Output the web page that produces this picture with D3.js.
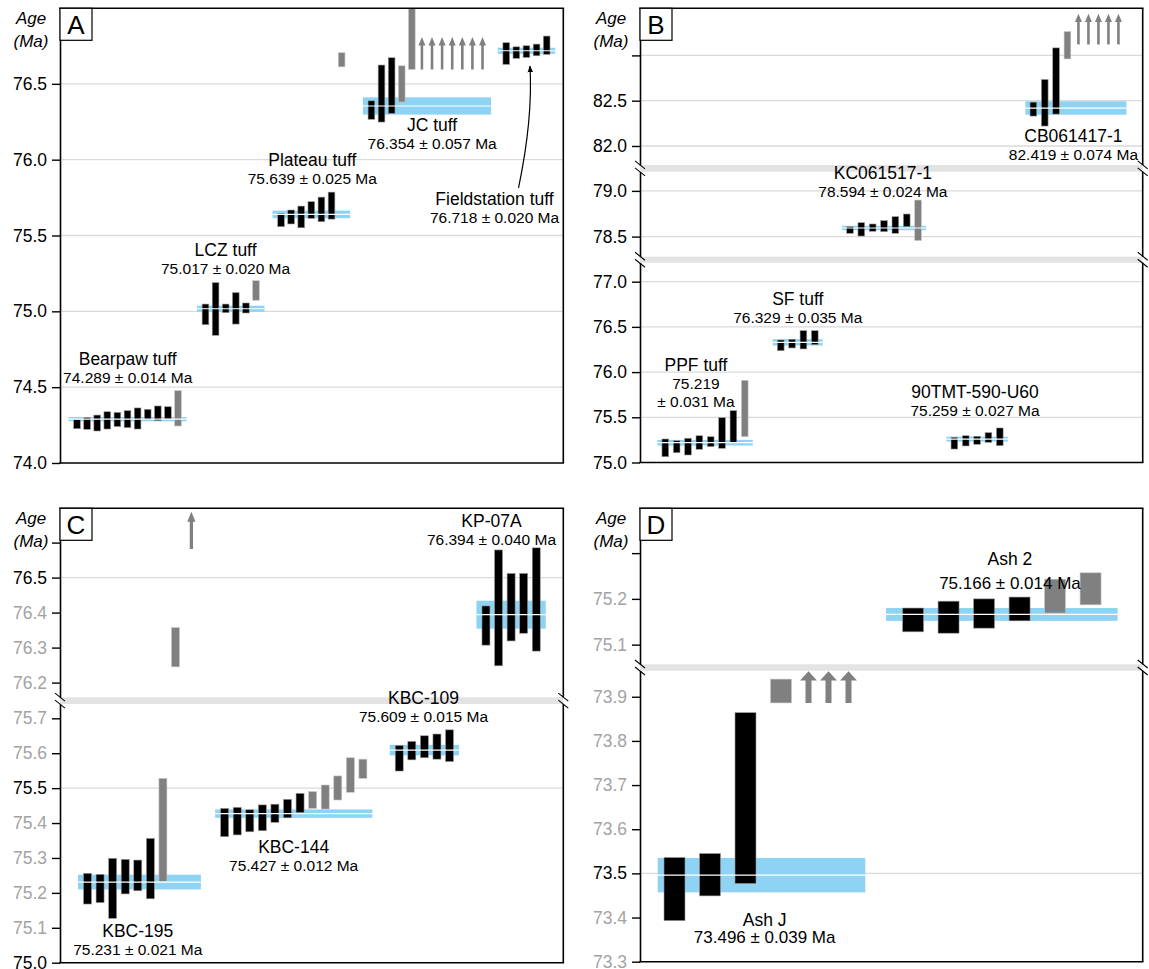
<!DOCTYPE html>
<html>
<head>
<meta charset="utf-8">
<script src="https://cdn.jsdelivr.net/npm/d3@7"></script>
<style>
  body { margin: 0; background: #fff; }
  svg { font-family: 'Liberation Sans', Arial, Helvetica, sans-serif; }
</style>
</head>
<body>
<svg id="chart"></svg>
<script>
// each grain: [low, high, used]  used 1 = black (in the mean), 0 = grey (left out)

// panel A
const bearpawTuff = [[74.226,74.288,1],[74.222,74.299,1],[74.211,74.316,1],[74.224,74.338,1],[74.240,74.334,1],[74.233,74.345,1],[74.224,74.363,1],[74.288,74.354,1],[74.279,74.376,1],[74.290,74.371,1],[74.244,74.477,0]];
const lczTuff = [[74.912,75.048,1],[74.842,75.189,1],[74.991,75.048,1],[74.916,75.123,1],[74.989,75.055,1],[75.073,75.202,0]];
const plateauTuff = [[75.558,75.646,1],[75.576,75.668,1],[75.551,75.694,1],[75.613,75.723,1],[75.591,75.753,1],[75.608,75.786,1],[76.612,76.705,0]];
const jcTuff = [[76.266,76.388,1],[76.248,76.624,1],[76.305,76.672,1],[76.380,76.619,0],[76.595,77.300,0]];
const fieldstationTuff = [[76.628,76.771,1],[76.668,76.744,1],[76.674,76.751,1],[76.685,76.762,1],[76.694,76.815,1]];
// off-scale grains: [base, tip, count]
const jcArrows = [76.595, 76.808, 7];
const ticksA = [74.0, 74.5, 75.0, 75.5, 76.0, 76.5];

// panel B
const ppfTuff = [[75.064,75.260,1],[75.108,75.241,1],[75.083,75.268,1],[75.146,75.296,1],[75.175,75.285,1],[75.157,75.496,1],[75.223,75.573,1],[75.285,75.909,0]];
const sfTuff = [[76.237,76.355,1],[76.267,76.363,1],[76.256,76.458,1],[76.303,76.458,1]];
const kc061517 = [[78.536,78.608,1],[78.506,78.652,1],[78.558,78.638,1],[78.554,78.674,1],[78.536,78.718,1],[78.608,78.747,1],[78.457,78.900,0]];
const tmt590 = [[75.149,75.279,1],[75.183,75.296,1],[75.201,75.290,1],[75.223,75.330,1],[75.186,75.382,1]];
const cb061417 = [[82.330,82.484,1],[82.220,82.734,1],[82.352,83.083,1],[82.961,83.263,0]];
const cbArrows = [83.12, 83.46, 5];
const ticksB1 = [82.0, 82.5, 83.0];
const ticksB2 = [78.5, 79.0];
const ticksB3 = [75.0, 75.5, 76.0, 76.5, 77.0];

// panel C
const kbc195 = [[75.168,75.256,1],[75.172,75.253,1],[75.127,75.299,1],[75.197,75.296,1],[75.206,75.294,1],[75.183,75.356,1],[75.232,75.528,0],[76.245,76.357,0]];
const kbc195Arrows = [76.582, 76.688, 1];
const kbc144 = [[75.361,75.442,1],[75.366,75.445,1],[75.375,75.438,1],[75.378,75.452,1],[75.402,75.454,1],[75.415,75.468,1],[75.430,75.485,1],[75.442,75.490,0],[75.440,75.509,0],[75.466,75.535,0],[75.488,75.587,0],[75.528,75.583,0]];
const kbc109 = [[75.549,75.622,1],[75.581,75.634,1],[75.587,75.650,1],[75.583,75.655,1],[75.576,75.667,1]];
const kp07a = [[76.307,76.419,1],[76.248,76.579,1],[76.319,76.512,1],[76.341,76.512,1],[76.290,76.585,1]];
const ticksC1 = [76.2, 76.3, 76.4, 76.5, 76.6];
const ticksC2 = [75.0, 75.1, 75.2, 75.3, 75.4, 75.5, 75.6, 75.7];

// panel D
const ashJ = [[73.393,73.536,1],[73.449,73.545,1],[73.477,73.864,1],[73.886,73.940,0]];
const ashJArrows = [73.886, 73.958, 3];
const ash2 = [[75.128,75.180,1],[75.125,75.195,1],[75.136,75.200,1],[75.152,75.204,1],[75.169,75.243,0],[75.187,75.257,0]];
const ticksD1 = [75.1, 75.2, 75.3];
const ticksD2 = [73.3, 73.4, 73.5, 73.6, 73.7, 73.8, 73.9];

// groups: weighted mean, 2 sigma, first grain slot, label slot + label age
const groupsA = [
    { name: 'Bearpaw tuff', mean: 74.289, err: 0.014, start: 0, grains: bearpawTuff, label: [5.02, 74.525] },
    { name: 'LCZ tuff', mean: 75.017, err: 0.020, start: 12.72, grains: lczTuff, label: [14.71, 75.244] },
    { name: 'Plateau tuff', mean: 75.639, err: 0.025, start: 20.2, grains: plateauTuff, label: [23.3, 75.839] },
    { name: 'JC tuff', mean: 76.354, err: 0.057, start: 29.15, grains: jcTuff, arrows: jcArrows, label: [35.16, 76.068] },
    { name: 'Fieldstation tuff', mean: 76.718, err: 0.020, start: 42.5, grains: fieldstationTuff, label: [41.34, 75.584], callout: [44.85, 76.617] }
];
const groupsB = [
    { name: 'PPF tuff', mean: 75.219, err: 0.031, start: 0, grains: ppfTuff, label: [2.7, 75.617], split: true },
    { name: 'SF tuff', mean: 76.329, err: 0.035, start: 10.17, grains: sfTuff, label: [11.67, 76.546] },
    { name: 'KC061517-1', mean: 78.594, err: 0.024, start: 16.27, grains: kc061517, label: [19.17, 78.936] },
    { name: '90TMT-590-U60', mean: 75.259, err: 0.027, start: 25.47, grains: tmt590, label: [27.29, 75.518] },
    { name: 'CB061417-1', mean: 82.419, err: 0.074, start: 32.43, grains: cb061417, arrows: cbArrows, label: [35.96, 81.845] }
];
const groupsC = [
    { name: 'KBC-195', mean: 75.231, err: 0.021, start: 0, grains: kbc195, arrows: kbc195Arrows, label: [4.0, 75.022] },
    { name: 'KBC-144', mean: 75.427, err: 0.012, start: 10.91, grains: kbc144, label: [16.4, 75.264] },
    { name: 'KBC-109', mean: 75.609, err: 0.015, start: 24.8, grains: kbc109, label: [26.73, 75.69] },
    { name: 'KP-07A', mean: 76.394, err: 0.040, start: 31.7, grains: kp07a, label: [32.14, 76.593] }
];
const groupsD = [
    { name: 'Ash J', mean: 73.496, err: 0.039, start: 0, grains: ashJ, arrows: ashJArrows, label: [2.54, 73.342] },
    { name: 'Ash 2', mean: 75.166, err: 0.014, start: 6.72, grains: ash2, label: [9.45, 75.222], pad: 27, gap: 24 }
];

const svg = d3.select('#chart').attr('width', 1149).attr('height', 969);
const defs = svg.append('defs');
defs.append('marker')
    .attr('id', 'head')
    .attr('viewBox', '0 0 10 10')
    .attr('refX', 9).attr('refY', 5)
    .attr('markerWidth', 7).attr('markerHeight', 7)
    .attr('markerUnits', 'userSpaceOnUse')
    .attr('orient', 'auto')
    .append('path').attr('d', 'M0,1 L10,5 L0,9 Z').attr('fill', '#000');

const fmt = d3.format('.3f');
const isMajor = t => Math.abs(t * 2 - Math.round(t * 2)) < 1e-6;

class AgePanel {

    constructor( config, groups ) {
        this.config = config;
        this.groups = groups;
        this.init();
    }

    init() {
        let self = this;
        const c = self.config;

        self.chart = svg.append('g');

        self.xscale = d3.scaleLinear()
            .domain([0, 1])
            .range([c.x0, c.x0 + c.step]);

        self.segs = c.segments.map(s => ({
            yscale: d3.scaleLinear().domain(s.domain).range(s.range),
            ticks: s.ticks
        }));

        defs.append('clipPath').attr('id', 'clip' + c.letter)
            .append('rect')
            .attr('x', c.left).attr('y', c.top)
            .attr('width', c.right - c.left).attr('height', c.bottom - c.top);

        self.back = self.chart.append('g');
        self.plot = self.chart.append('g').attr('clip-path', `url(#clip${c.letter})`);
        self.front = self.chart.append('g');
    }

    seg(v) {
        return this.segs.find(s => v >= s.yscale.domain()[0] - 1e-9 && v <= s.yscale.domain()[1] + 1e-9)
            || this.segs[this.segs.length - 1];
    }

    y(v) {
        return this.seg(v).yscale(v);
    }

    render() {
        let self = this;
        const c = self.config;

        // grid lines at the half-Ma ticks
        self.segs.forEach(s => {
            s.ticks.filter(t => isMajor(t) && Math.abs(s.yscale(t) - c.bottom) > 2).forEach(t => {
                self.back.append('line')
                    .attr('x1', c.left).attr('x2', c.right)
                    .attr('y1', s.yscale(t)).attr('y2', s.yscale(t))
                    .attr('stroke', '#dadada').attr('stroke-width', 1.3);
            });
        });

        // grey bands where the axis is broken
        for (let i = 0; i < self.segs.length - 1; i++) {
            const y0 = self.segs[i].yscale.range()[0];
            const y1 = self.segs[i + 1].yscale.range()[1];
            self.back.append('rect')
                .attr('x', c.left).attr('width', c.right - c.left)
                .attr('y', y0).attr('height', y1 - y0)
                .attr('fill', '#e3e3e3');
        }

        self.groups.forEach(g => {
            const n = g.grains.length;
            const pad = g.pad || c.pad;
            const gap = g.gap || c.lineGap;
            const lastX = self.xscale(g.start + n - 1);
            const arrowX = g.arrows ? d3.range(g.arrows[2]).map(k => lastX + c.arrowOffset + k * c.arrowGap) : [];
            const xa = self.xscale(g.start) - pad;
            const xb = (arrowX.length ? arrowX[arrowX.length - 1] : lastX) + pad;

            // weighted mean band
            self.plot.append('rect')
                .attr('x', xa).attr('width', xb - xa)
                .attr('y', self.y(g.mean + g.err))
                .attr('height', self.y(g.mean - g.err) - self.y(g.mean + g.err))
                .attr('fill', '#8ed3f4');

            // grain ages
            self.plot.selectAll(null)
                .data(g.grains)
                .join('rect')
                .attr('x', (d, i) => self.xscale(g.start + i) - c.barW / 2)
                .attr('width', c.barW)
                .attr('y', d => self.seg((d[0] + d[1]) / 2).yscale(d[1]))
                .attr('height', d => {
                    const s = self.seg((d[0] + d[1]) / 2).yscale;
                    return s(d[0]) - s(d[1]);
                })
                .attr('fill', d => d[2] ? '#000' : '#808080')
                .attr('stroke', d => d[2] ? '#9a9a9a' : '#c8c8c8')
                .attr('stroke-width', 0.6);

            // grains older than the axis
            if (g.arrows) {
                const yb = self.y(g.arrows[0]);
                const yt = self.y(g.arrows[1]);
                const yh = yt + c.headLen;
                self.plot.selectAll(null)
                    .data(arrowX)
                    .join('path')
                    .attr('d', x => `M${x - c.shaft / 2},${yb} V${yh} H${x - c.head / 2} L${x},${yt} L${x + c.head / 2},${yh} H${x + c.shaft / 2} V${yb} Z`)
                    .attr('fill', '#808080');
            }

            // mean line
            self.plot.append('line')
                .attr('x1', xa).attr('x2', xb)
                .attr('y1', self.y(g.mean)).attr('y2', self.y(g.mean))
                .attr('stroke', '#fff').attr('stroke-width', 1.2);

            // labels
            const lx = self.xscale(g.label[0]);
            const ly = self.y(g.label[1]);
            const ageText = `${fmt(g.mean)} ± ${fmt(g.err)} Ma`;
            if (g.split) {
                self.front.append('text').attr('x', lx).attr('y', ly - 2 * gap)
                    .attr('text-anchor', 'middle').style('font-size', c.nameSize + 'px').text(g.name);
                self.front.append('text').attr('x', lx).attr('y', ly - gap)
                    .attr('text-anchor', 'middle').style('font-size', c.valueSize + 'px').text(fmt(g.mean));
                self.front.append('text').attr('x', lx).attr('y', ly)
                    .attr('text-anchor', 'middle').style('font-size', c.valueSize + 'px').text(`± ${fmt(g.err)} Ma`);
            } else {
                self.front.append('text').attr('x', lx).attr('y', ly - gap)
                    .attr('text-anchor', 'middle').style('font-size', c.nameSize + 'px').text(g.name);
                self.front.append('text').attr('x', lx).attr('y', ly)
                    .attr('text-anchor', 'middle').style('font-size', c.valueSize + 'px').text(ageText);
            }

            if (g.callout) {
                const x0 = lx + 24, y0 = ly - gap - 17;
                const x1 = self.xscale(g.callout[0]), y1 = self.y(g.callout[1]);
                const p = d3.path();
                p.moveTo(x0, y0);
                p.quadraticCurveTo(x1 + 3, (y0 + y1) / 2 - 8, x1, y1);
                self.front.append('path')
                    .attr('d', p.toString())
                    .attr('fill', 'none').attr('stroke', '#000').attr('stroke-width', 1.2)
                    .attr('marker-end', 'url(#head)');
            }
        });

        // y axes, one per segment
        self.segs.forEach(s => {
            const axis = d3.axisLeft(s.yscale)
                .tickValues(s.ticks)
                .tickSize(8)
                .tickSizeOuter(0)
                .tickPadding(5)
                .tickFormat(d3.format('.1f'));
            const ag = self.front.append('g')
                .attr('transform', `translate(${c.left},0)`)
                .call(axis)
                .attr('font-size', null).attr('font-family', null);
            ag.select('.domain').attr('stroke-width', 1.6);
            ag.selectAll('.tick line').attr('stroke-width', 1.4);
            ag.selectAll('.tick text')
                .style('font-size', '17.5px')
                .attr('fill', d => isMajor(d) ? '#000' : '#a3a3a3')
                .style('display', d => s.yscale(d) < c.top + 50 ? 'none' : null);

            // right edge
            self.front.append('line')
                .attr('x1', c.right).attr('x2', c.right)
                .attr('y1', s.yscale.range()[0]).attr('y2', s.yscale.range()[1])
                .attr('stroke', '#000').attr('stroke-width', 1.6);
        });

        self.front.append('line')
            .attr('x1', c.left - 0.8).attr('x2', c.right + 0.8)
            .attr('y1', c.top).attr('y2', c.top)
            .attr('stroke', '#000').attr('stroke-width', 1.6);
        self.front.append('line')
            .attr('x1', c.left - 0.8).attr('x2', c.right + 0.8)
            .attr('y1', c.bottom).attr('y2', c.bottom)
            .attr('stroke', '#000').attr('stroke-width', 1.6);

        // break marks
        for (let i = 0; i < self.segs.length - 1; i++) {
            const yc = (self.segs[i].yscale.range()[0] + self.segs[i + 1].yscale.range()[1]) / 2;
            [c.left, c.right].forEach(x => {
                [-3.5, 3.5].forEach(off => {
                    self.front.append('line')
                        .attr('x1', x - 5).attr('y1', yc + off - 4)
                        .attr('x2', x + 5).attr('y2', yc + off + 4)
                        .attr('stroke', '#000').attr('stroke-width', 1.1);
                });
            });
        }

        // axis title
        self.front.append('text')
            .attr('x', c.left - 29).attr('y', c.top + 15.7)
            .attr('text-anchor', 'middle')
            .style('font-size', '17px').style('font-style', 'italic')
            .text('Age');
        self.front.append('text')
            .attr('x', c.left - 29).attr('y', c.top + 38.4)
            .attr('text-anchor', 'middle')
            .style('font-size', '17px').style('font-style', 'italic')
            .text('(Ma)');

        // panel letter
        self.front.append('rect')
            .attr('x', c.left).attr('y', c.top)
            .attr('width', 32).attr('height', 32)
            .attr('fill', '#fff').attr('stroke', '#000').attr('stroke-width', 1.2);
        self.front.append('text')
            .attr('x', c.left + 16).attr('y', c.top + 26)
            .attr('text-anchor', 'middle')
            .style('font-size', '26px')
            .text(c.letter);
    }
}

const common = { nameSize: 17.5, valueSize: 15.5, lineGap: 18 };

const panelA = new AgePanel(Object.assign({}, common, {
    letter: 'A', left: 60, right: 563.3, top: 8.3, bottom: 463,
    x0: 77, step: 10.1, barW: 6.7, pad: 8.5,
    arrowOffset: 10.1, arrowGap: 10.1, head: 7, shaft: 2.6, headLen: 8.3,
    segments: [{ domain: [74, 77], range: [463, 8], ticks: ticksA }]
}), groupsA);

const panelB = new AgePanel(Object.assign({}, common, {
    letter: 'B', left: 640, right: 1142.7, top: 8.3, bottom: 462.5,
    x0: 665.3, step: 11.35, barW: 6.7, pad: 8,
    arrowOffset: 11, arrowGap: 10, head: 7, shaft: 2.6, headLen: 8.3,
    segments: [
        { domain: [81.79, 83.52], range: [165, 8.3], ticks: ticksB1 },
        { domain: [78.28, 79.21], range: [256.7, 171.7], ticks: ticksB2 },
        { domain: [75.0, 77.21], range: [462.5, 262.7], ticks: ticksB3 }
    ]
}), groupsB);

const panelC = new AgePanel(Object.assign({}, common, {
    letter: 'C', left: 60, right: 563.3, top: 508.3, bottom: 962.7,
    x0: 87.5, step: 12.57, barW: 8, pad: 9.5,
    arrowOffset: 15.9, arrowGap: 12.6, head: 8.3, shaft: 3.3, headLen: 10,
    segments: [
        { domain: [76.158, 76.698], range: [697.3, 508.3], ticks: ticksC1 },
        { domain: [75.0, 75.741], range: [962.7, 704], ticks: ticksC2 }
    ]
}), groupsC);

const panelD = new AgePanel(Object.assign({}, common, {
    letter: 'D', left: 640, right: 1142.7, top: 508.3, bottom: 961.7,
    valueSize: 17, lineGap: 17,
    x0: 674.5, step: 35.5, barW: 21, pad: 16.8,
    arrowOffset: 27.5, arrowGap: 20, head: 17, shaft: 6, headLen: 9.3,
    segments: [
        { domain: [75.057, 75.398], range: [664.3, 508.3], ticks: ticksD1 },
        { domain: [73.3, 73.959], range: [961.7, 670.7], ticks: ticksD2 }
    ]
}), groupsD);

[panelA, panelB, panelC, panelD].forEach(p => p.render());
</script>
</body>
</html>
